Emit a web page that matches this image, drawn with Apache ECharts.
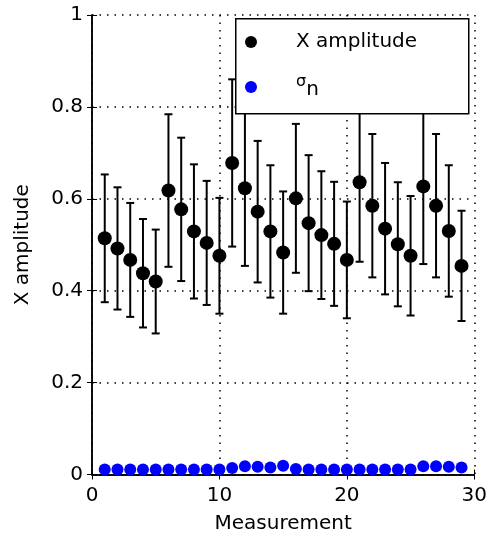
<!DOCTYPE html>
<html>
<head>
<meta charset="utf-8">
<script src="https://cdn.jsdelivr.net/npm/echarts@6/dist/echarts.min.js"></script>
<style>html,body{margin:0;padding:0;background:#fff}#c{width:490px;height:540px}</style>
</head>
<body>
<div id="c"></div>
<script>
var measurements = [1,2,3,4,5,6,7,8,9,10,11,12,13,14,15,16,17,18,19,20,21,22,23,24,25,26,27,28,29];
var xAmplitude = [0.514,0.492,0.467,0.438,0.420,0.618,0.577,0.529,0.504,0.476,0.678,0.623,0.572,0.529,0.483,0.601,0.547,0.521,0.502,0.467,0.636,0.585,0.535,0.501,0.476,0.627,0.585,0.530,0.454];
var xAmplitudeErr = [0.139,0.133,0.124,0.118,0.113,0.166,0.156,0.146,0.135,0.126,0.182,0.169,0.154,0.144,0.133,0.162,0.148,0.139,0.135,0.127,0.173,0.156,0.143,0.135,0.130,0.169,0.156,0.143,0.120];
var sigmaN = [0.011,0.011,0.011,0.011,0.011,0.011,0.011,0.011,0.011,0.011,0.014,0.018,0.017,0.015,0.019,0.012,0.011,0.011,0.011,0.011,0.011,0.011,0.011,0.011,0.011,0.018,0.018,0.017,0.015];
var xTicks = [0,10,20,30];
var yTicks = [0,0.2,0.4,0.6,0.8,1];
var seriesNames = ['X amplitude','σn'];

var FONT = 'DejaVu Sans';
var chart = echarts.init(document.getElementById('c'), null, {renderer:'canvas'});

function renderErr(params, api){
  var x = api.value(0), y = api.value(1), e = api.value(2);
  var top = api.coord([x, y + e]);
  var bot = api.coord([x, y - e]);
  var cw = 4;
  var st = {stroke:'#000', lineWidth:2};
  return {type:'group', children:[
    {type:'line', shape:{x1:top[0], y1:top[1], x2:bot[0], y2:bot[1]}, style:st},
    {type:'line', shape:{x1:top[0]-cw, y1:top[1], x2:top[0]+cw, y2:top[1]}, style:st},
    {type:'line', shape:{x1:bot[0]-cw, y1:bot[1], x2:bot[0]+cw, y2:bot[1]}, style:st}
  ]};
}

var axisLine = {show:true, lineStyle:{color:'#000', width:1.5}};
var tick = {show:true, inside:true, length:5, lineStyle:{color:'#000', width:1}};
var grid = {show:true, lineStyle:{color:'#000', type:[1.5,6], width:1.5}};

var option = {
  animation:false,
  backgroundColor:'#fff',
  grid:{left:92, right:14, top:15, bottom:65.5},
  xAxis:[
    {type:'value', min:xTicks[0], max:xTicks[xTicks.length-1], interval:10, position:'bottom',
     axisLine:axisLine, axisTick:tick, splitLine:grid,
     axisLabel:{fontFamily:FONT, fontSize:20, color:'#000', margin:11},
     name:'Measurement', nameLocation:'middle', nameGap:39,
     nameTextStyle:{fontFamily:FONT, fontSize:20, color:'#000'}},
    {type:'value', min:xTicks[0], max:xTicks[xTicks.length-1], interval:10, position:'top',
     axisLine:axisLine, axisTick:tick, splitLine:{show:false}, axisLabel:{show:false}}
  ],
  yAxis:[
    {type:'value', min:yTicks[0], max:yTicks[yTicks.length-1], interval:0.2, position:'left',
     axisLine:axisLine, axisTick:tick, splitLine:grid,
     axisLabel:{fontFamily:FONT, fontSize:20, color:'#000', margin:9},
     name:'X amplitude', nameLocation:'middle', nameGap:59, nameRotate:90,
     nameTextStyle:{fontFamily:FONT, fontSize:20, color:'#000'}},
    {type:'value', min:yTicks[0], max:yTicks[yTicks.length-1], interval:0.2, position:'right',
     axisLine:axisLine, axisTick:tick, splitLine:{show:false}, axisLabel:{show:false}}
  ],
  legend:{
    data:seriesNames, orient:'vertical', left:245, top:30, padding:0, z:20,
    icon:'circle', itemWidth:80, itemHeight:12, itemGap:20,
    textStyle:{fontFamily:FONT, fontSize:20, color:'#000', lineHeight:24,
      rich:{
        s:{fontFamily:FONT, fontSize:16, color:'#000', lineHeight:14, padding:[0,0,10,0]},
        sub:{fontFamily:FONT, fontSize:20, color:'#000', lineHeight:18, padding:[6,0,0,0]}
      }},
    formatter:function(name){ return name === seriesNames[1] ? '{s|σ}{sub|n}' : name; }
  },
  graphic:[{type:'rect', left:235, top:18, z:10, shape:{width:233, height:95},
    style:{fill:'#fff', stroke:'#000', lineWidth:1.5}}],
  series:[
    {type:'custom', name:'err', renderItem:renderErr, z:2,
     encode:{x:0, y:1},
     data:measurements.map(function(m,i){return [m, xAmplitude[i], xAmplitudeErr[i]];})},
    {type:'scatter', name:seriesNames[0], symbol:'circle', symbolSize:14, z:3,
     itemStyle:{color:'#000', opacity:1},
     data:measurements.map(function(m,i){return [m, xAmplitude[i]];})},
    {type:'scatter', name:seriesNames[1], symbol:'circle', symbolSize:12, z:3,
     itemStyle:{color:'#0000ff', opacity:1},
     data:measurements.map(function(m,i){return [m, sigmaN[i]];})}
  ]
};
chart.setOption(option);
</script>
</body>
</html>
